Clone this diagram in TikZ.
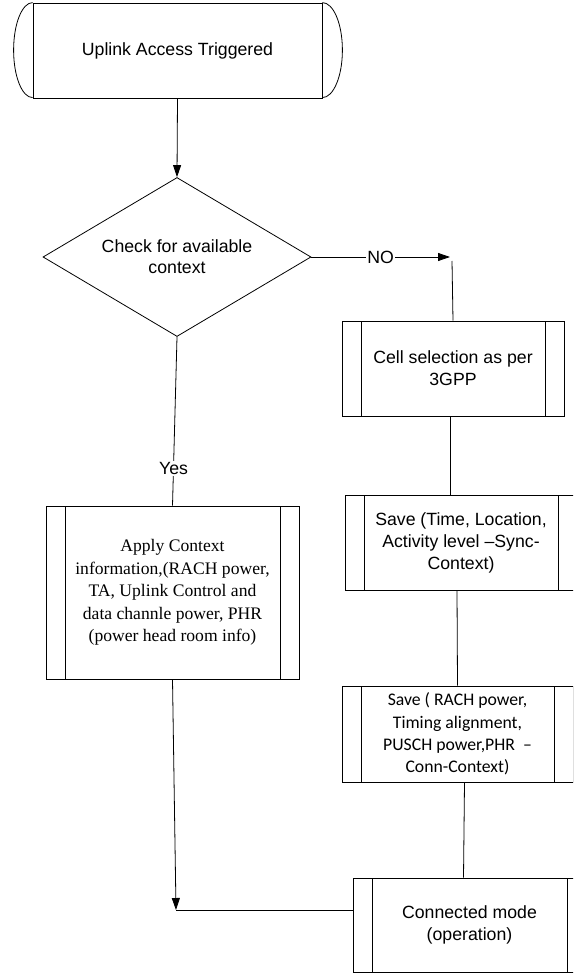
\documentclass[tikz,border=0pt]{standalone}
\usepackage{fontspec}
\setmainfont{Liberation Sans}
\newfontfamily\tnrfont{Liberation Serif}
\newfontfamily\calfont{Carlito}
\usetikzlibrary{shapes.geometric,arrows.meta}
\begin{document}
\begin{tikzpicture}[x=1pt,y=-1pt,
  line width=0.8pt,
  txt/.style={font=\fontsize{17.7}{22}\selectfont},
  box/.style={draw, rectangle, inner sep=0pt, align=center, txt},
  subbox/.style={box, path picture={
      \draw ([xshift=19pt]path picture bounding box.north west) -- ([xshift=19pt]path picture bounding box.south west);
      \draw ([xshift=-19pt]path picture bounding box.north east) -- ([xshift=-19pt]path picture bounding box.south east);}},
  arr/.style={-{Triangle[length=12pt,width=8pt]}},
  lbl/.style={fill=white, inner sep=1pt, txt}
]
\useasboundingbox (0,0) rectangle (573,973);
\clip (0,0) rectangle (573,973);

% start terminator
\node[box, minimum width=289pt, minimum height=95pt] (start) at (177.5,50.5) {Uplink Access Triggered};
\draw (start.north west) arc[start angle=90, end angle=270, x radius=19pt, y radius=47.5pt];
\draw (start.north east) arc[start angle=90, end angle=-90, x radius=20pt, y radius=47.5pt];

% decision
\node[draw, diamond, shape aspect=1.69, minimum width=268pt, minimum height=159pt, inner sep=0pt, align=center,
      font=\fontsize{17.7}{20.7}\selectfont] (dec) at (177,257) {Check for available\\context};

% process boxes
\node[subbox, minimum width=222pt, minimum height=95pt] (cell) at (453,368.5) {Cell selection as per\\3GPP};
\node[subbox, minimum width=232pt, minimum height=95pt] (save1) at (461,542.5) {Save (Time, Location,\\Activity level –Sync-\\Context)};
\node[subbox, minimum width=231pt, minimum height=96pt, font=\calfont\fontsize{17.7}{22.3}\selectfont] (save2) at (457.5,734) {Save ( RACH power,\\Timing alignment,\\PUSCH power,PHR\ \ –\\Conn-Context)};
\node[subbox, minimum width=233pt, minimum height=94pt] (conn) at (469.5,925) {Connected mode\\(operation)};
\node[subbox, minimum width=253pt, minimum height=173pt, font=\tnrfont\fontsize{17.6}{22.5}\selectfont] (apply) at (172.5,592.5) {Apply Context\\information,(RACH power,\\TA, Uplink Control and\\data channle power, PHR\\(power head room info)};

% connectors
\coordinate (noend) at (450,257);
\coordinate (notop) at (452,261);
\coordinate (corner) at (176,910);
\draw[arr] (start.south) -- (dec.north);
\draw[arr] (dec.east) -- node[lbl]{NO} (noend);
\draw (notop) -- (cell.north);
\draw ([xshift=-3pt]cell.south) -- ([xshift=-11pt]save1.north);
\draw ([xshift=-4pt]save1.south) -- (save2.north);
\draw ([xshift=7pt]save2.south) -- ([xshift=-6pt]conn.north);
\draw (dec.south) -- node[lbl, pos=0.78]{Yes} (apply.north);
\draw[arr] (apply.south) -- (corner);
\draw (corner) -- ([yshift=15pt]conn.west);
\end{tikzpicture}
\end{document}
